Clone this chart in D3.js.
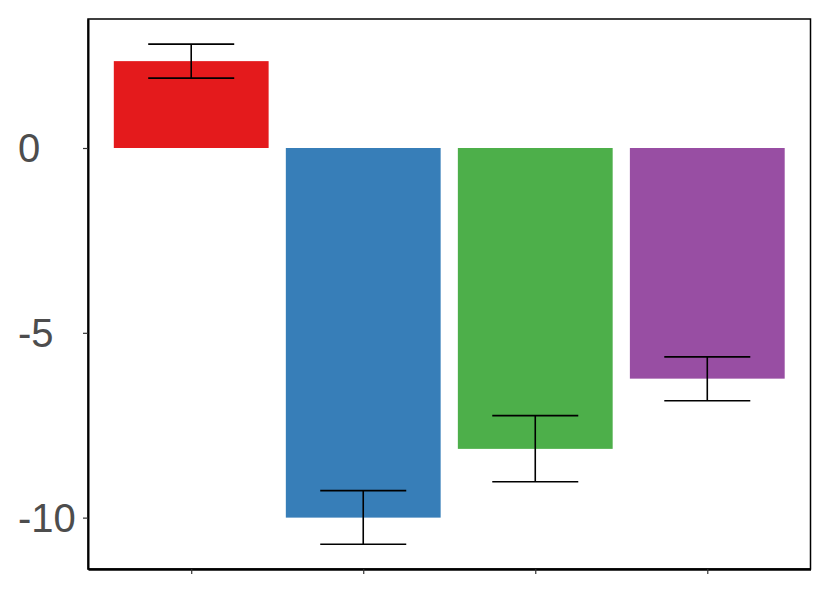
<!DOCTYPE html>
<html>
<head>
<meta charset="utf-8">
<script src="https://cdn.jsdelivr.net/npm/d3@7"></script>
<style>
  body { margin: 0; background: #fff; }
  svg { display: block; }
</style>
</head>
<body>
<div class="chart"></div>
<script>
// bar data
const groups = ['A', 'B', 'C', 'D']
const means = [2.35, -10.0, -8.14, -6.24]
const lower = [1.89, -10.72, -9.03, -6.84]
const upper = [2.81, -9.27, -7.24, -5.65]
const colors = ['#E41A1C', '#377EB8', '#4DAF4A', '#984EA3']
const yTicks = [0, -5, -10]

var svgWidth = 830
var svgHeight = 593

var panel = { left: 88, right: 810.5, top: 19, bottom: 569 }

var svg = d3.select('.chart')
    .append('svg')
    .attr('width', svgWidth)
    .attr('height', svgHeight)

var data = groups.map((g, i) => ({ g: g, mean: means[i], lo: lower[i], hi: upper[i], color: colors[i] }))

// ggplot style discrete scale, 0.6 expansion on each side
var xScale = d3.scalePoint()
    .domain(groups)
    .range([panel.left, panel.right])
    .padding(0.6)
var step = xScale.step()

var yScale = d3.scaleLinear()
    .domain([-11.39, 3.49])
    .range([panel.bottom, panel.top])

// bars
svg.selectAll('.bar')
    .data(data)
    .enter()
    .append('rect')
    .classed('bar', true)
    .attr('x', d => xScale(d.g) - step * 0.45)
    .attr('width', step * 0.9)
    .attr('y', d => yScale(Math.max(0, d.mean)))
    .attr('height', d => Math.abs(yScale(d.mean) - yScale(0)))
    .attr('fill', d => d.color)

// error bars
var err = svg.selectAll('.err')
    .data(data)
    .enter()
    .append('g')
    .classed('err', true)
    .attr('stroke', '#000')
    .attr('stroke-width', 1.6)

err.append('line')
    .attr('x1', d => xScale(d.g)).attr('x2', d => xScale(d.g))
    .attr('y1', d => yScale(d.lo)).attr('y2', d => yScale(d.hi))
err.append('line')
    .attr('x1', d => xScale(d.g) - step * 0.25).attr('x2', d => xScale(d.g) + step * 0.25)
    .attr('y1', d => yScale(d.lo)).attr('y2', d => yScale(d.lo))
err.append('line')
    .attr('x1', d => xScale(d.g) - step * 0.25).attr('x2', d => xScale(d.g) + step * 0.25)
    .attr('y1', d => yScale(d.hi)).attr('y2', d => yScale(d.hi))

// panel border
svg.append('rect')
    .attr('x', panel.left)
    .attr('y', panel.top)
    .attr('width', panel.right - panel.left)
    .attr('height', panel.bottom - panel.top)
    .attr('fill', 'none')
    .attr('stroke', '#000')
    .attr('stroke-width', 1.5)

// y axis
var yAxis = svg.append('g')
    .attr('transform', `translate(${panel.left}, 0)`)
    .call(d3.axisLeft(yScale).tickValues(yTicks).tickSize(5).tickSizeOuter(0).tickFormat(''))
yAxis.select('.domain').attr('stroke', '#000').attr('stroke-width', 2)
yAxis.selectAll('.tick line').attr('stroke', '#333').attr('stroke-width', 1.2)

svg.selectAll('.ylab')
    .data(yTicks)
    .enter()
    .append('text')
    .classed('ylab', true)
    .attr('x', 18)
    .attr('y', d => yScale(d))
    .attr('dy', '0.36em')
    .attr('font-family', 'Liberation Sans, Arial, sans-serif')
    .attr('font-size', '40px')
    .attr('fill', '#4D4D4D')
    .text(d => d)

// x axis
var xAxis = svg.append('g')
    .attr('transform', `translate(0, ${panel.bottom})`)
    .call(d3.axisBottom(xScale).tickSize(5).tickFormat('').tickSizeOuter(0))
xAxis.select('.domain').attr('stroke', '#000').attr('stroke-width', 2.5)
xAxis.selectAll('.tick line').attr('stroke', '#333').attr('stroke-width', 1.2)
</script>
</body>
</html>
